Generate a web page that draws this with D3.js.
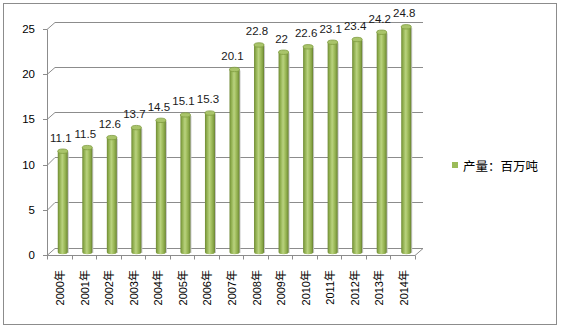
<!DOCTYPE html>
<html>
<head>
<meta charset="utf-8">
<script src="https://cdn.jsdelivr.net/npm/d3@7"></script>
<style>
  html, body { margin: 0; padding: 0; background: #fff; }
  svg { display: block; }
  text { font-family: "Liberation Sans", Arial, "Noto Sans CJK SC", sans-serif; }
</style>
</head>
<body>
<svg id="chart" width="561" height="329"></svg>
<script>
const categories = ["2000年","2001年","2002年","2003年","2004年","2005年","2006年","2007年","2008年","2009年","2010年","2011年","2012年","2013年","2014年"];
const values = [11.1, 11.5, 12.6, 13.7, 14.5, 15.1, 15.3, 20.1, 22.8, 22, 22.6, 23.1, 23.4, 24.2, 24.8];
const valueLabels = ["11.1","11.5","12.6","13.7","14.5","15.1","15.3","20.1","22.8","22","22.6","23.1","23.4","24.2","24.8"];
const yTicks = [0, 5, 10, 15, 20, 25];
const seriesName = "产量：百万吨";

const svg = d3.select("#chart");
const green = "#9BBB59";
const gridColor = "#8c8c8c";

// outer border
svg.append("rect").attr("x", 3.5).attr("y", 3.5).attr("width", 553).attr("height", 321)
  .attr("fill", "#fff").attr("stroke", "#8c8c8c").attr("stroke-width", 1);

// scales
const x = d3.scaleBand().domain(categories).range([47, 415]).paddingInner(0).paddingOuter(0);
const yF = d3.scaleLinear().domain([0, 25]).range([255, 29]);   // front plane
const yC = d3.scaleLinear().domain([0, 25]).range([252, 25]);   // mid-depth (cylinders)
const dx = 8, dy = -7.5;

// defs: gradients
const defs = svg.append("defs");
const g1 = defs.append("linearGradient").attr("id", "cyl").attr("x1", "0").attr("x2", "1").attr("y1", "0").attr("y2", "0");
[["0", "#6f8a34"], ["0.18", "#8fae4e"], ["0.45", "#b9d27f"], ["0.6", "#a8c466"], ["0.85", "#86a445"], ["1", "#647d2e"]]
  .forEach(([o, c]) => g1.append("stop").attr("offset", o).attr("stop-color", c));

const grid = svg.append("g");
// gridlines with side-wall diagonals
yTicks.forEach(v => {
  const yf = Math.round(yF(v)) + 0.5;
  const yb = Math.round(yF(v) + dy) + 0.5;
  grid.append("path")
    .attr("d", `M${x.range()[0]},${yf}L${x.range()[0] + dx},${yb}H${x.range()[1] + dx}`)
    .attr("fill", "none").attr("stroke", gridColor).attr("stroke-width", 1);
  // tick
  grid.append("line").attr("x1", 43).attr("x2", 47).attr("y1", yf).attr("y2", yf)
    .attr("stroke", gridColor);
});
// floor front edge & right edge
const y0f = Math.round(yF(0)) + 0.5;
grid.append("path")
  .attr("d", `M${x.range()[0]},${y0f}H${x.range()[1]}L${x.range()[1] + dx},${Math.round(yF(0) + dy) + 0.5}`)
  .attr("fill", "none").attr("stroke", gridColor);
// y axis line
grid.append("line").attr("x1", 47.5).attr("x2", 47.5).attr("y1", Math.round(yF(25)) + 0.5).attr("y2", y0f)
  .attr("stroke", gridColor);
// category ticks
const bounds = categories.map(c => x(c)).concat([x.range()[1]]);
bounds.forEach(b => {
  grid.append("line").attr("x1", Math.round(b) + 0.5).attr("x2", Math.round(b) + 0.5)
    .attr("y1", y0f).attr("y2", y0f + 4).attr("stroke", gridColor);
});

// y labels
svg.append("g").selectAll("text").data(yTicks).join("text")
  .attr("x", 35).attr("y", d => yF(d)).attr("text-anchor", "end").attr("dominant-baseline", "central")
  .attr("font-size", "11.5px").attr("fill", "#000").text(d => d);

// cylinders
const cw = 10, ry = 2.2;
const cyl = svg.append("g");
categories.forEach((c, i) => {
  const cx = x(c) + x.bandwidth() / 2 + 3.5;
  const yt = yC(values[i]);
  const yb = yC(0);
  // shadow
  cyl.append("rect").attr("x", cx + cw / 2 - 0.5).attr("y", yt + 1).attr("width", 1.5).attr("height", yb - yt)
    .attr("fill", "#c8c8c8");
  cyl.append("path")
    .attr("d", `M${cx - cw / 2},${yt}V${yb}A${cw / 2},${ry} 0 0 0 ${cx + cw / 2},${yb}V${yt}Z`)
    .attr("fill", "url(#cyl)");
  cyl.append("ellipse").attr("cx", cx).attr("cy", yt).attr("rx", cw / 2).attr("ry", ry)
    .attr("fill", "#a9c46a").attr("stroke", "#7f9c40").attr("stroke-width", 0.8);
  // value label
  svg.append("text").attr("x", cx - 2).attr("y", yt - ry - 7.5)
    .attr("text-anchor", "middle").attr("font-size", "11.5px").attr("fill", "#1a1a1a")
    .text(valueLabels[i]);
});

// x labels (rotated)
svg.append("g").selectAll("text").data(categories).join("text")
  .attr("transform", d => `translate(${x(d) + x.bandwidth() / 2 + 1},270) rotate(-90)`)
  .attr("text-anchor", "end").attr("dominant-baseline", "central")
  .attr("font-size", "11px").attr("fill", "#000").text(d => d);

// legend
svg.append("rect").attr("x", 452).attr("y", 162).attr("width", 6).attr("height", 6).attr("fill", green);
svg.append("text").attr("x", 463).attr("y", 165.5).attr("dominant-baseline", "central")
  .attr("font-size", "12.5px").attr("fill", "#000")
  .style("font-family", "'Noto Sans CJK SC', sans-serif").text(seriesName);
</script>
</body>
</html>
